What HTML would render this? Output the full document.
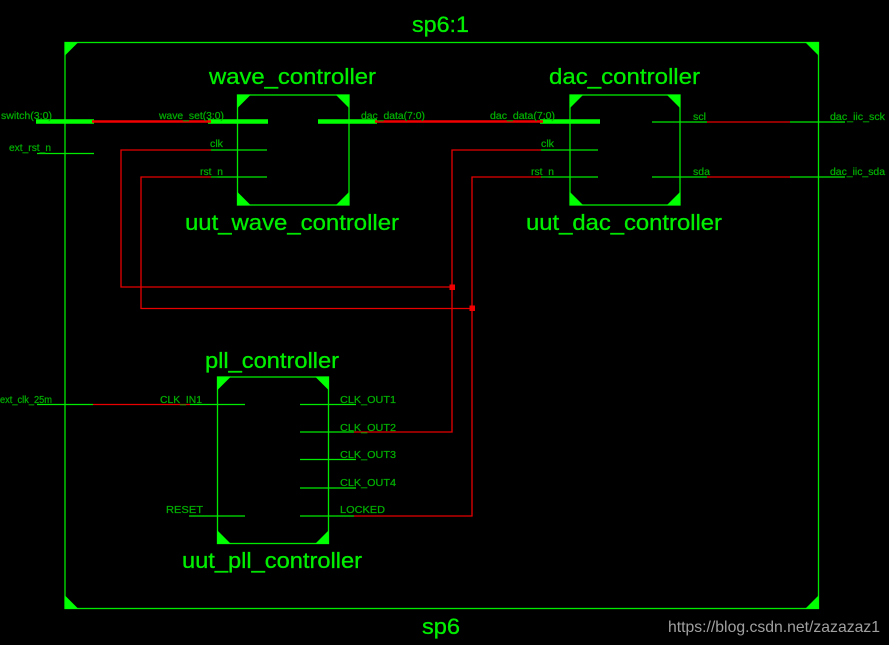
<!DOCTYPE html>
<html><head><meta charset="utf-8"><style>
html,body{margin:0;padding:0;background:#000;width:889px;height:645px;overflow:hidden}
svg{display:block}
text{font-family:"Liberation Sans",sans-serif}
.t{fill:#00ee00;stroke:#00ee00;stroke-width:.3;font-size:22px}
.s{fill:#00b400;stroke:#00a000;stroke-width:.25;font-size:10px}
.g{stroke:#00ea00;stroke-width:1.3;fill:none}
.b{stroke:#00ff00;stroke-width:4.5;fill:none}
.r{stroke:#e80000;stroke-width:1.3;fill:none}
.rb{stroke:#f00000;stroke-width:2.5;fill:none}
.c{fill:#00ff00}
</style></head><body>
<svg width="889" height="645" viewBox="0 0 889 645" xmlns="http://www.w3.org/2000/svg">
<rect width="889" height="645" fill="#000"/>
<!-- outer -->
<rect x="65" y="42.500" width="753.500" height="566" class="g"/>
<path class="c" d="M64.500 42h14l-14 14zM819 42h-14l14 14zM64.500 609h14l-14-14zM819 609h-14l14-14z"/>
<!-- wave box -->
<rect x="237.500" y="95" width="111.500" height="110" class="g"/>
<path class="c" d="M237 94.500h14l-14 14zM349.500 94.500h-14l14 14zM237 205.500h14l-14-14zM349.500 205.500h-14l14-14z"/>
<!-- dac box -->
<rect x="570" y="95" width="110" height="110" class="g"/>
<path class="c" d="M569.500 94.500h14l-14 14zM680.500 94.500h-14l14 14zM569.500 205.500h14l-14-14zM680.500 205.500h-14l14-14z"/>
<!-- pll box -->
<rect x="217.500" y="377" width="111" height="166.500" class="g"/>
<path class="c" d="M217 376.500h14l-14 14zM329 376.500h-14l14 14zM217 544h14l-14-14zM329 544h-14l14-14z"/>
<!-- red wires -->
<path class="r" d="M211 150H121V287H452M211 177H141V308.500H472M541 150H452V432H354M541 177H472V516H354M707 122H790M707 177H790M93 404.500H190"/>
<!-- buses -->
<path class="b" d="M36 121.500H94M208 121.500H268M318 121.500H377M540 121.500H600"/>
<path class="rb" d="M92 121.500H211M375 121.500H543"/>
<!-- green stubs -->
<path class="g" d="M37 153.500H94M211 150H267M211 177H267M541 150H598M541 177H598M652 122H707M790 122H845M652 177H707M790 177H845M37 404.500H93M190 404.500H245M300 404.500H356M300 432H354M300 459.500H356M300 488H356M300 516H354M189 516H245"/>
<rect x="449.500" y="284.500" width="5.500" height="5.500" fill="#f00000"/>
<rect x="469.500" y="305.500" width="5.500" height="5.500" fill="#f00000"/>
<!-- titles -->
<text class="t" x="412" y="32" textLength="57" lengthAdjust="spacingAndGlyphs">sp6:1</text>
<text class="t" x="209" y="84" textLength="167" lengthAdjust="spacingAndGlyphs">wave_controller</text>
<text class="t" x="549" y="84" textLength="151" lengthAdjust="spacingAndGlyphs">dac_controller</text>
<text class="t" x="185" y="230" textLength="214" lengthAdjust="spacingAndGlyphs">uut_wave_controller</text>
<text class="t" x="526" y="230" textLength="196" lengthAdjust="spacingAndGlyphs">uut_dac_controller</text>
<text class="t" x="205" y="368" textLength="134" lengthAdjust="spacingAndGlyphs">pll_controller</text>
<text class="t" x="182" y="568" textLength="180" lengthAdjust="spacingAndGlyphs">uut_pll_controller</text>
<text class="t" x="422" y="634" textLength="38" lengthAdjust="spacingAndGlyphs">sp6</text>
<!-- small labels -->
<text class="s" x="1" y="119" textLength="51" lengthAdjust="spacingAndGlyphs">switch(3:0)</text>
<text class="s" x="9" y="151" textLength="42" lengthAdjust="spacingAndGlyphs">ext_rst_n</text>
<text class="s" x="159" y="119" textLength="65" lengthAdjust="spacingAndGlyphs">wave_set(3:0)</text>
<text class="s" x="210" y="147" textLength="13" lengthAdjust="spacingAndGlyphs">clk</text>
<text class="s" x="200" y="175" textLength="23" lengthAdjust="spacingAndGlyphs">rst_n</text>
<text class="s" x="361" y="119" textLength="64" lengthAdjust="spacingAndGlyphs">dac_data(7:0)</text>
<text class="s" x="490" y="119" textLength="65" lengthAdjust="spacingAndGlyphs">dac_data(7:0)</text>
<text class="s" x="541" y="147" textLength="13" lengthAdjust="spacingAndGlyphs">clk</text>
<text class="s" x="531" y="175" textLength="23" lengthAdjust="spacingAndGlyphs">rst_n</text>
<text class="s" x="693" y="120" textLength="13" lengthAdjust="spacingAndGlyphs">scl</text>
<text class="s" x="693" y="175" textLength="17" lengthAdjust="spacingAndGlyphs">sda</text>
<text class="s" x="830" y="120" textLength="55" lengthAdjust="spacingAndGlyphs">dac_iic_sck</text>
<text class="s" x="830" y="175" textLength="55" lengthAdjust="spacingAndGlyphs">dac_iic_sda</text>
<text class="s" x="0" y="403" textLength="52" lengthAdjust="spacingAndGlyphs">ext_clk_25m</text>
<text class="s" x="160" y="403" textLength="42" lengthAdjust="spacingAndGlyphs">CLK_IN1</text>
<text class="s" x="166" y="513" textLength="37" lengthAdjust="spacingAndGlyphs">RESET</text>
<text class="s" x="340" y="403" textLength="56" lengthAdjust="spacingAndGlyphs">CLK_OUT1</text>
<text class="s" x="340" y="431" textLength="56" lengthAdjust="spacingAndGlyphs">CLK_OUT2</text>
<text class="s" x="340" y="458" textLength="56" lengthAdjust="spacingAndGlyphs">CLK_OUT3</text>
<text class="s" x="340" y="486" textLength="56" lengthAdjust="spacingAndGlyphs">CLK_OUT4</text>
<text class="s" x="340" y="513" textLength="45" lengthAdjust="spacingAndGlyphs">LOCKED</text>
<text x="668" y="632" font-size="16" fill="#a0a0a0" textLength="212" lengthAdjust="spacingAndGlyphs">https://blog.csdn.net/zazazaz1</text>
</svg>
</body></html>
